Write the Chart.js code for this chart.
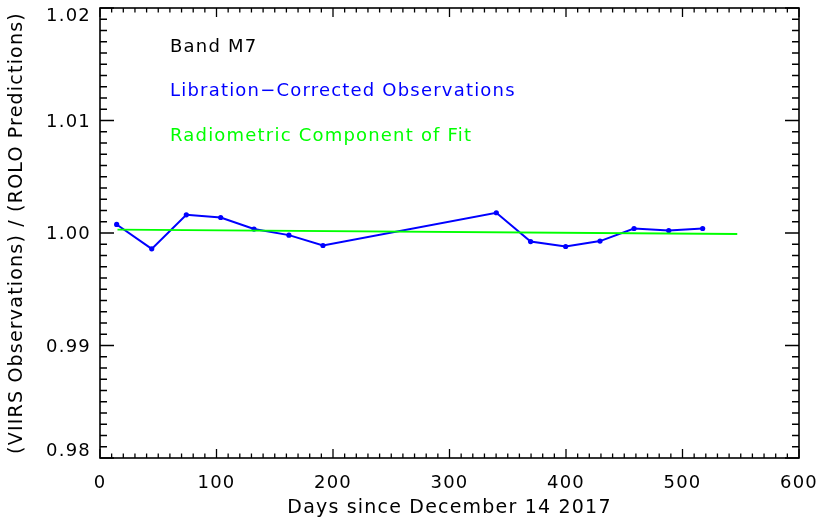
<!DOCTYPE html>
<html>
<head>
<meta charset="utf-8">
<script src="https://cdn.jsdelivr.net/npm/chart.js@4/dist/chart.umd.min.js"></script>
<style>
    html, body { margin: 0; padding: 0; background: #ffffff; }
    #wrap { width: 821px; height: 522px; position: relative; }
</style>
</head>
<body>
<div id="wrap"><canvas id="chart"></canvas></div>
<script>
const obs_days = [14.3, 44.4, 74.1, 103.6, 132.2, 162.2, 191.4, 340.2, 369.6, 399.7, 429.2, 458.4, 488.2, 517.3];
const obs_ratio = [1.00076, 0.99859, 1.00162, 1.00138, 1.00035, 0.99981, 0.99889, 1.0018, 0.99924, 0.9988, 0.99928, 1.0004, 1.00022, 1.0004];

// radiometric fit line end points
const fit_days = [15, 547];
const fit_ratio = [1.0003, 0.99991];

const x_ticks = [0, 100, 200, 300, 400, 500, 600];
const y_ticks = [0.98, 0.99, 1.00, 1.01, 1.02];

const labels_text = ['Band M7', 'Libration\u2212Corrected Observations', 'Radiometric Component of Fit'];
const labels_color = ['#000000', '#0000ff', '#00ff00'];

const FONT = "'DejaVu Sans', sans-serif";

const to_points = (xs, ys) => xs.map((x, i) => ({ x, y: ys[i] }));

// wide spacing like the IDL vector font
const spacing_plugin = {
    id: 'spacing',
    beforeDraw(chart) {
        chart.ctx.letterSpacing = '1.2px';
    },
};

// IDL style box with inward ticks on all sides
const frame_plugin = {
    id: 'frame',
    afterDraw(chart) {
        const { ctx, chartArea: a, scales } = chart;
        const xs = scales.x, ys = scales.y;
        ctx.save();
        ctx.strokeStyle = '#000000';
        ctx.lineWidth = 1.6;
        ctx.strokeRect(a.left, a.top, a.right - a.left, a.bottom - a.top);
        ctx.lineWidth = 1.3;
        ctx.beginPath();
        for (let v = 0; v <= 600; v += 10) {
            const px = xs.getPixelForValue(v);
            const len = v % 100 === 0 ? 9 : 4.5;
            ctx.moveTo(px, a.bottom); ctx.lineTo(px, a.bottom - len);
            ctx.moveTo(px, a.top); ctx.lineTo(px, a.top + len);
        }
        for (let k = 0; k <= 40; k++) {
            const py = ys.getPixelForValue(0.98 + k * 0.001);
            const len = k % 10 === 0 ? 14 : 7;
            ctx.moveTo(a.left, py); ctx.lineTo(a.left + len, py);
            ctx.moveTo(a.right, py); ctx.lineTo(a.right - len, py);
        }
        ctx.stroke();

        ctx.font = '18px ' + FONT;
        ctx.letterSpacing = '1.2px';
        ctx.textBaseline = 'middle';

        // y tick labels, end labels kept inside the axis like IDL does
        ctx.textAlign = 'right';
        ctx.fillStyle = '#000000';
        y_ticks.forEach(v => {
            const py = Math.max(a.top + 8.5, Math.min(a.bottom - 7, ys.getPixelForValue(v) + 1.5));
            ctx.fillText(v.toFixed(2), a.left - 9, py);
        });

        // legend text
        ctx.textAlign = 'left';
        labels_text.forEach((t, i) => {
            ctx.fillStyle = labels_color[i];
            ctx.fillText(t, a.left + 70, a.top + 39 + i * 44.5);
        });
        ctx.restore();
    },
};

const no_pad = s => {
    s.paddingLeft = 0; s.paddingRight = 0; s.paddingTop = 0; s.paddingBottom = 0;
};

const ctx = document.getElementById('chart').getContext('2d');
const chart = new Chart(ctx, {
    type: 'line',
    data: {
        datasets: [
            {
                label: 'fit',
                data: to_points(fit_days, fit_ratio),
                borderColor: '#00ff00',
                borderWidth: 2,
                pointRadius: 0,
                tension: 0,
            },
            {
                label: 'obs',
                data: to_points(obs_days, obs_ratio),
                borderColor: '#0000ff',
                backgroundColor: '#0000ff',
                borderWidth: 2,
                pointRadius: 2.6,
                pointBorderWidth: 0,
                tension: 0,
            },
        ],
    },
    options: {
        animation: false,
        responsive: true,
        maintainAspectRatio: false,
        layout: { padding: { top: 8, right: 22, left: 0, bottom: 0 } },
        scales: {
            x: {
                type: 'linear',
                min: 0,
                max: 600,
                afterFit: s => { s.height = 64; no_pad(s); },
                afterBuildTicks: s => { s.ticks = x_ticks.map(value => ({ value })); },
                grid: { display: false, drawTicks: false },
                border: { display: false },
                ticks: { padding: 15, maxRotation: 0, color: '#000000', font: { family: FONT, size: 18 } },
                title: {
                    display: true,
                    text: 'Days since December 14 2017',
                    color: '#000000',
                    font: { family: FONT, size: 19 },
                    padding: { top: 0, bottom: 3 },
                },
            },
            y: {
                min: 0.98,
                max: 1.02,
                afterFit: s => { s.width = 100; no_pad(s); },
                afterBuildTicks: s => { s.ticks = y_ticks.map(value => ({ value })); },
                grid: { display: false, drawTicks: false },
                border: { display: false },
                ticks: { display: false },
                title: {
                    display: true,
                    text: '(VIIRS Observations) / (ROLO Predictions)',
                    color: '#000000',
                    font: { family: FONT, size: 19 },
                    padding: { top: 6, bottom: 0 },
                },
            },
        },
        plugins: {
            legend: { display: false },
            tooltip: { enabled: false },
        },
    },
    plugins: [spacing_plugin, frame_plugin],
});
</script>
</body>
</html>
